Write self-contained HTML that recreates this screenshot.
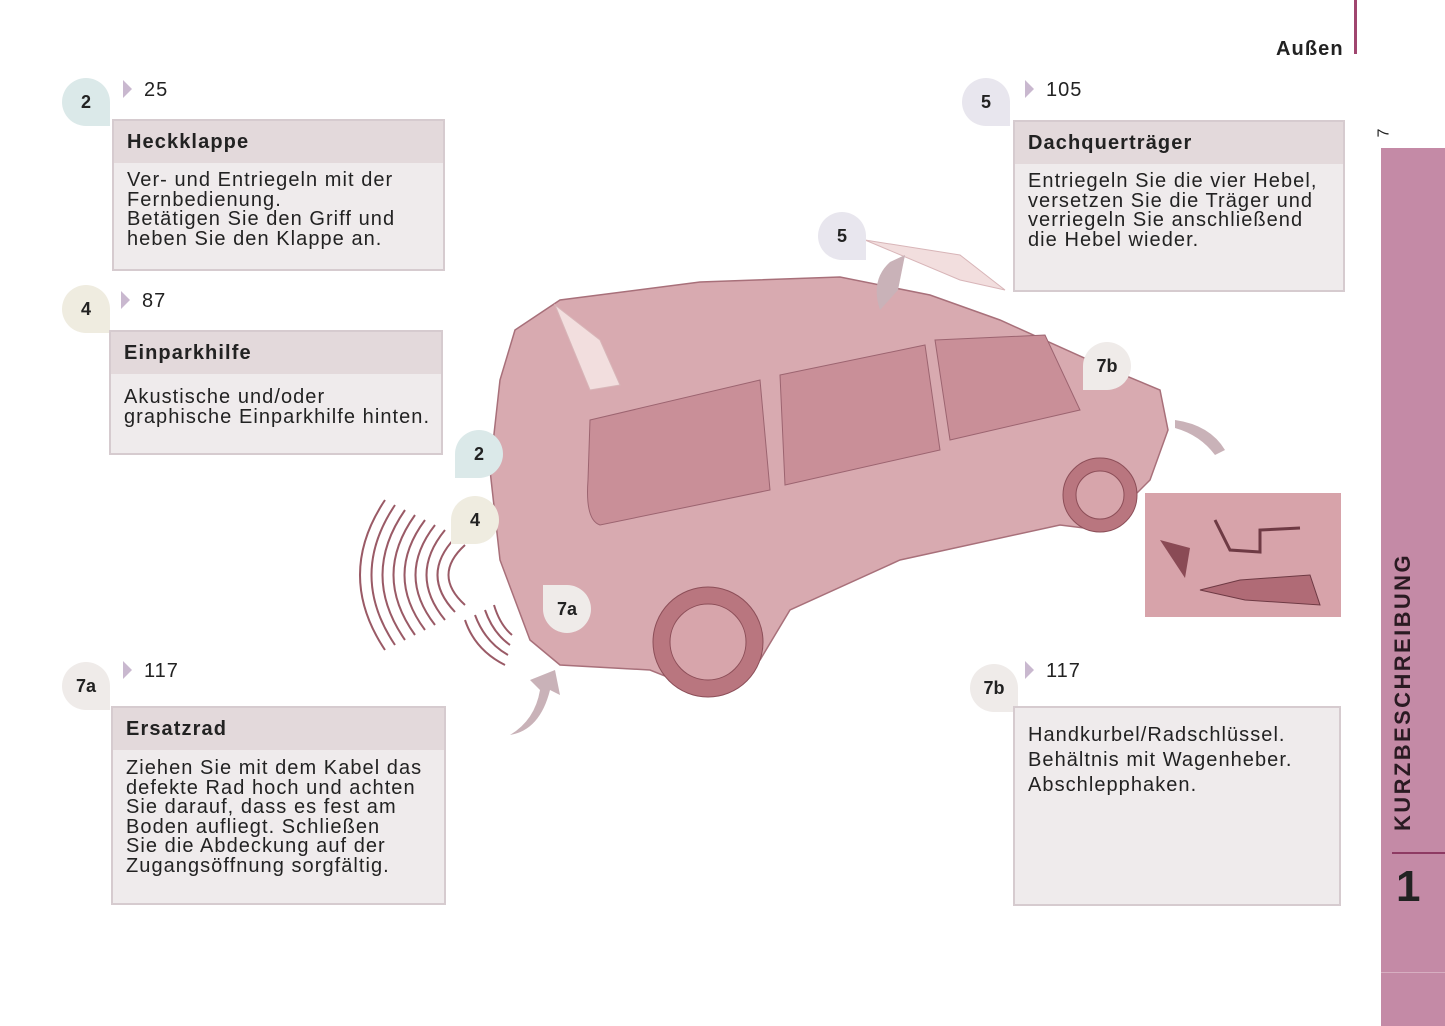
<!DOCTYPE html>
<html><head><meta charset="utf-8"><style>
body{margin:0;width:1445px;height:1026px;background:#fff;position:relative;overflow:hidden;font-family:"Liberation Sans",sans-serif;color:#222}
.box{position:absolute;background:#efebec;border:2px solid #d6cbcf;box-sizing:border-box}
.hd{background:#e3d9db;height:42px;font-weight:bold;font-size:20px;padding:10px 0 0 13px;box-sizing:border-box;letter-spacing:1.1px}
.bd{font-size:20px;line-height:19.5px;padding:8px 0 0 13px;letter-spacing:1.05px}
.badge{position:absolute;width:48px;height:48px;border-radius:50% 50% 0 50%;font-weight:bold;font-size:18px;display:flex;align-items:center;justify-content:center}
.ref{position:absolute;font-size:20px;letter-spacing:1px}
.ref:before{content:"";display:inline-block;border-left:9px solid #c9b8cf;border-top:9px solid transparent;border-bottom:9px solid transparent;margin-right:12px;vertical-align:-2px}
</style></head><body>
<div style="position:absolute;left:1354px;top:0;width:3px;height:54px;background:#a0466f"></div>
<div style="position:absolute;left:1276px;top:38px;font-weight:bold;font-size:20px;letter-spacing:1.1px">Außen</div>
<div style="position:absolute;left:1380px;top:124px;font-size:16px;transform:rotate(-90deg)">7</div>
<div style="position:absolute;left:1381px;top:148px;width:64px;height:878px;background:#c48aa6"></div>
<div style="position:absolute;left:1392px;top:852px;width:53px;height:2px;background:#8e3a63"></div>
<div style="position:absolute;left:1381px;top:972px;width:64px;height:1px;background:#d7aec1"></div>
<div style="position:absolute;left:1396px;top:862px;font-weight:bold;font-size:44px;color:#222">1</div>
<div style="position:absolute;left:1258px;top:679px;width:290px;height:26px;text-align:center;font-weight:bold;font-size:22px;transform:rotate(-90deg);color:#2a1a22;letter-spacing:2.4px;white-space:nowrap">KURZBESCHREIBUNG</div>

<div class="badge" style="left:62px;top:78px;background:#dbe9e9">2</div>
<div class="ref" style="left:123px;top:79px">25</div>
<div class="box" style="left:112px;top:119px;width:333px;height:152px"><div class="hd">Heckklappe</div><div class="bd">Ver- und Entriegeln mit der<br>Fernbedienung.<br>Betätigen Sie den Griff und<br>heben Sie den Klappe an.</div></div>

<div class="badge" style="left:62px;top:285px;background:#efece0">4</div>
<div class="ref" style="left:121px;top:290px">87</div>
<div class="box" style="left:109px;top:330px;width:334px;height:125px"><div class="hd">Einparkhilfe</div><div class="bd" style="padding-top:14px">Akustische und/oder<br>graphische Einparkhilfe hinten.</div></div>

<div class="badge" style="left:62px;top:662px;background:#efebe9">7a</div>
<div class="ref" style="left:123px;top:660px">117</div>
<div class="box" style="left:111px;top:706px;width:335px;height:199px"><div class="hd">Ersatzrad</div><div class="bd" style="padding-top:9px">Ziehen Sie mit dem Kabel das<br>defekte Rad hoch und achten<br>Sie darauf, dass es fest am<br>Boden aufliegt. Schließen<br>Sie die Abdeckung auf der<br>Zugangsöffnung sorgfältig.</div></div>

<div class="badge" style="left:962px;top:78px;background:#e8e6ee">5</div>
<div class="ref" style="left:1025px;top:79px">105</div>
<div class="box" style="left:1013px;top:120px;width:332px;height:172px"><div class="hd">Dachquerträger</div><div class="bd">Entriegeln Sie die vier Hebel,<br>versetzen Sie die Träger und<br>verriegeln Sie anschließend<br>die Hebel wieder.</div></div>

<div class="badge" style="left:970px;top:664px;background:#efebe9">7b</div>
<div class="ref" style="left:1025px;top:660px">117</div>
<div class="box" style="left:1013px;top:706px;width:328px;height:200px"><div class="bd" style="padding-top:15px;line-height:25px">Handkurbel/Radschlüssel.<br>Behältnis mit Wagenheber.<br>Abschlepphaken.</div></div>

<svg style="position:absolute;left:0;top:0" width="1445" height="1026">
<g fill="#d8aab0" stroke="#a8707a" stroke-width="1.5">
<path d="M515 330 L560 300 L700 282 L840 277 L930 295 L1000 320 L1100 365 L1160 390 L1168 430 L1150 480 L1130 500 L1100 530 L1060 525 L900 560 L790 610 L760 660 L700 690 L650 670 L560 665 L530 640 L500 560 L490 470 L500 380 Z"/>
</g>
<path d="M590 420 L760 380 L770 490 L600 525 Q585 520 588 480 Z" fill="#c98f98" stroke="#9c6470"/>
<path d="M780 375 L925 345 L940 450 L785 485 Z" fill="#c98f98" stroke="#9c6470"/>
<path d="M935 340 L1045 335 L1080 410 L950 440 Z" fill="#c98f98" stroke="#9c6470"/>
<circle cx="708" cy="642" r="55" fill="#b9767f" stroke="#8c4e58"/><circle cx="708" cy="642" r="38" fill="#d7a5ab" stroke="#8c4e58"/>
<circle cx="1100" cy="495" r="37" fill="#b9767f" stroke="#8c4e58"/><circle cx="1100" cy="495" r="24" fill="#d7a5ab" stroke="#8c4e58"/>
<path d="M865 240 L960 255 L1005 290 L960 280 Z" fill="#f2dede" stroke="#d8b5b8"/>
<path d="M555 305 L600 340 L620 385 L590 390 Z" fill="#f2dede" stroke="#d8b5b8"/>
<path d="M880 310 Q870 280 890 262 L905 255 L898 290 Z" fill="#c9b2b8"/>
<path d="M1175 420 Q1210 425 1225 450 L1215 455 Q1200 435 1175 428 Z" fill="#c9b2b8"/>
<path d="M510 735 Q535 720 540 690 L530 680 L555 670 L560 695 L550 690 Q540 730 510 735 Z" fill="#c9b2b8"/>
<g fill="none" stroke="#9a5a66" stroke-width="2">
<path d="M385 650 Q335 575 385 500"/><path d="M395 645 Q348 575 395 505"/><path d="M405 640 Q360 575 405 510"/><path d="M415 635 Q372 575 415 515"/><path d="M425 630 Q384 575 425 520"/><path d="M435 625 Q396 575 435 525"/><path d="M445 620 Q408 575 445 530"/><path d="M455 612 Q420 575 455 538"/><path d="M465 605 Q432 575 465 545"/>
<path d="M465 620 Q475 650 505 665"/><path d="M475 615 Q485 642 508 655"/><path d="M485 610 Q493 633 510 645"/><path d="M494 605 Q500 625 512 635"/>
</g>
<rect x="1145" y="493" width="196" height="124" fill="#d7a3aa"/>
<path d="M1160 540 L1190 548 L1185 578 Z" fill="#8a4a55"/><path d="M1215 520 L1230 550 L1260 552 L1260 530 L1300 528" fill="none" stroke="#6e3a44" stroke-width="3"/>
<path d="M1200 590 L1240 580 L1310 575 L1320 605 L1245 600 Z" fill="#b06b76" stroke="#6e3a44"/>
</svg>
<div class="badge" style="left:818px;top:212px;background:#e8e6ee">5</div>
<div class="badge" style="left:1083px;top:342px;background:#efebe9;border-radius:50% 50% 50% 0">7b</div>
<div class="badge" style="left:455px;top:430px;background:#dbe9e9;border-radius:50% 50% 50% 0">2</div>
<div class="badge" style="left:451px;top:496px;background:#efece0;border-radius:50% 50% 50% 0">4</div>
<div class="badge" style="left:543px;top:585px;background:#efebe9;border-radius:0 50% 50% 50%">7a</div>
</body></html>
